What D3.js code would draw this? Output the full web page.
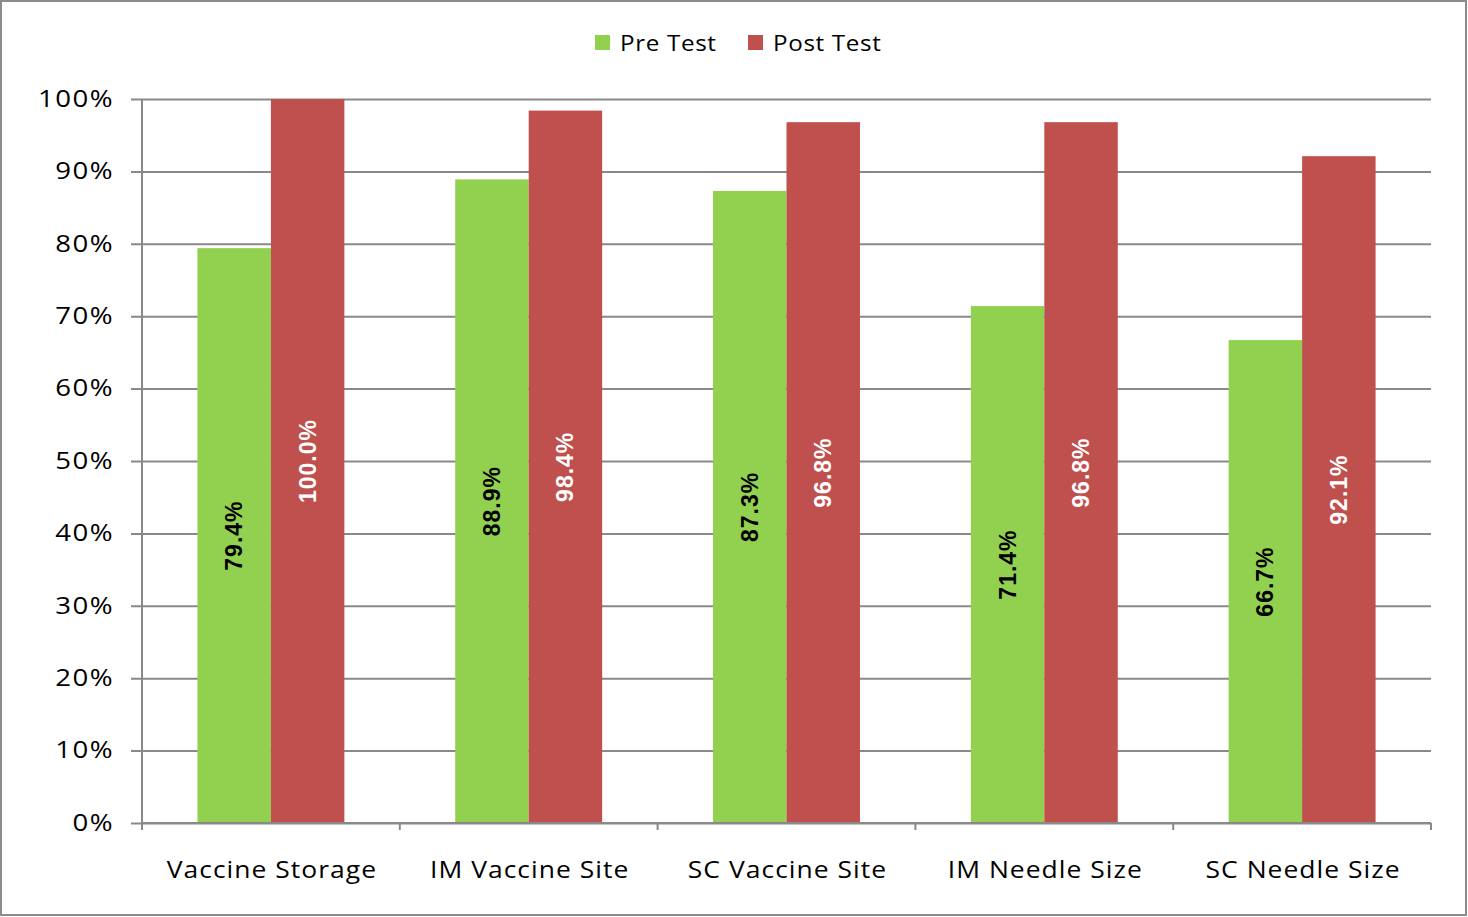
<!DOCTYPE html>
<html>
<head>
<meta charset="utf-8">
<script src="https://cdn.jsdelivr.net/npm/d3@7"></script>
<style>
  body { margin: 0; background: #fff; }
  svg { display: block; }
</style>
</head>
<body>
<div id="chart"></div>
<script>
const categories = ['Vaccine Storage', 'IM Vaccine Site', 'SC Vaccine Site', 'IM Needle Size', 'SC Needle Size'];
const seriesNames = ['Pre Test', 'Post Test'];
const preTest = [79.4, 88.9, 87.3, 71.4, 66.7];
const postTest = [100.0, 98.4, 96.8, 96.8, 92.1];
const yTicks = [0, 10, 20, 30, 40, 50, 60, 70, 80, 90, 100];

const Green = '#92d050';
const Red = '#c0504d';
const Grid = '#898989';
const font = "'Open Sans', 'Noto Sans', sans-serif";

const width = 1468;
const height = 917;
const margin = { top: 99, right: 37, bottom: 94, left: 142 };

// the original text is drawn slightly wide, so stretch it horizontally
function stretch(sel, sx) {
  sel.each(function () {
    const t = d3.select(this);
    const x = +t.attr('x') || 0;
    t.attr('x', x / sx).attr('transform', `scale(${sx},1)`);
  });
}

const svg = d3
  .select('#chart')
  .append('svg')
  .attr('width', width)
  .attr('height', height);

// outer frame
svg
  .append('rect')
  .attr('x', 1)
  .attr('y', 1)
  .attr('width', width - 3)
  .attr('height', height - 3)
  .attr('fill', '#fff')
  .attr('stroke', '#8c8c8c')
  .attr('stroke-width', 2);

const x0 = d3
  .scaleBand()
  .domain(categories)
  .range([margin.left, width - margin.right])
  .paddingInner(0.43)
  .paddingOuter(0.215);

const x1 = d3
  .scaleBand()
  .domain(seriesNames)
  .range([0, x0.bandwidth()]);

const y = d3
  .scaleLinear()
  .domain([0, 100])
  .range([height - margin.bottom, margin.top]);

// gridlines + y labels
const yAxis = svg
  .append('g')
  .attr('transform', `translate(${margin.left},0)`)
  .call(
    d3
      .axisLeft(y)
      .tickValues(yTicks)
      .tickSize(-(width - margin.left - margin.right))
      .tickPadding(28)
      .tickFormat((d) => d + '%')
  );
yAxis.select('.domain').remove();
yAxis
  .selectAll('.tick line')
  .attr('x1', -11)
  .attr('stroke', Grid)
  .attr('stroke-width', 2);
yAxis
  .selectAll('.tick text')
  .attr('font-family', font)
  .attr('font-size', 23)
  .attr('letter-spacing', 1.2)
  .attr('fill', '#000')
  .call(stretch, 1.2);

// bars
const data = categories.map((c, i) => ({
  cat: c,
  vals: [
    { name: seriesNames[0], v: preTest[i] },
    { name: seriesNames[1], v: postTest[i] },
  ],
}));

const groups = svg
  .selectAll('.grp')
  .data(data)
  .join('g')
  .attr('class', 'grp')
  .attr('transform', (d) => `translate(${x0(d.cat)},0)`);

groups
  .selectAll('rect')
  .data((d) => d.vals)
  .join('rect')
  .attr('x', (d) => x1(d.name))
  .attr('y', (d) => y(d.v))
  .attr('width', x1.bandwidth())
  .attr('height', (d) => y(0) - y(d.v))
  .attr('fill', (d) => (d.name === seriesNames[0] ? Green : Red));

groups
  .selectAll('text')
  .data((d) => d.vals)
  .join('text')
  .attr('transform', (d) => {
    const cx = x1(d.name) + x1.bandwidth() / 2;
    const cy = (y(d.v) + y(0)) / 2;
    return `translate(${cx},${cy}) rotate(-90)`;
  })
  .attr('text-anchor', 'middle')
  .attr('dy', '0.35em')
  .attr('font-family', "'Liberation Sans', Arial, sans-serif")
  .attr('font-weight', 'bold')
  .attr('font-size', 23)
  .attr('letter-spacing', 1)
  .attr('fill', (d) => (d.name === seriesNames[0] ? '#000' : '#fff'))
  .text((d) => d.v.toFixed(1) + '%');

// x axis
const xAxis = svg
  .append('g')
  .attr('transform', `translate(0,${y(0)})`);
xAxis
  .append('line')
  .attr('x1', margin.left)
  .attr('x2', width - margin.right)
  .attr('stroke', Grid)
  .attr('stroke-width', 2);
const step = (width - margin.left - margin.right) / categories.length;
xAxis
  .selectAll('.xtick')
  .data(d3.range(categories.length + 1))
  .join('line')
  .attr('class', 'xtick')
  .attr('x1', (i) => margin.left + i * step)
  .attr('x2', (i) => margin.left + i * step)
  .attr('y1', 0)
  .attr('y2', 7)
  .attr('stroke', Grid)
  .attr('stroke-width', 2);
// y axis line
svg
  .append('line')
  .attr('x1', margin.left)
  .attr('x2', margin.left)
  .attr('y1', y(100))
  .attr('y2', y(0) + 7)
  .attr('stroke', Grid)
  .attr('stroke-width', 2);

xAxis
  .selectAll('.xlab')
  .data(categories)
  .join('text')
  .attr('class', 'xlab')
  .attr('x', (d, i) => margin.left + (i + 0.5) * step + 1)
  .attr('y', 55)
  .attr('text-anchor', 'middle')
  .attr('font-family', font)
  .attr('font-size', 23)
  .attr('letter-spacing', 0.9)
  .attr('fill', '#000')
  .text((d) => d)
  .call(stretch, 1.15);

// legend
const legend = svg.append('g').attr('transform', 'translate(595,43)');
const legendX = [0, 153];
seriesNames.forEach((name, i) => {
  legend
    .append('rect')
    .attr('x', legendX[i])
    .attr('y', -8)
    .attr('width', 15)
    .attr('height', 15)
    .attr('fill', i === 0 ? Green : Red);
  legend
    .append('text')
    .attr('x', legendX[i] + 25)
    .attr('y', 0)
    .attr('dy', '0.35em')
    .attr('font-family', font)
    .attr('font-size', 22)
    .attr('letter-spacing', 0.6)
    .attr('fill', '#000')
    .text(name)
    .call(stretch, 1.1);
});
</script>
</body>
</html>
